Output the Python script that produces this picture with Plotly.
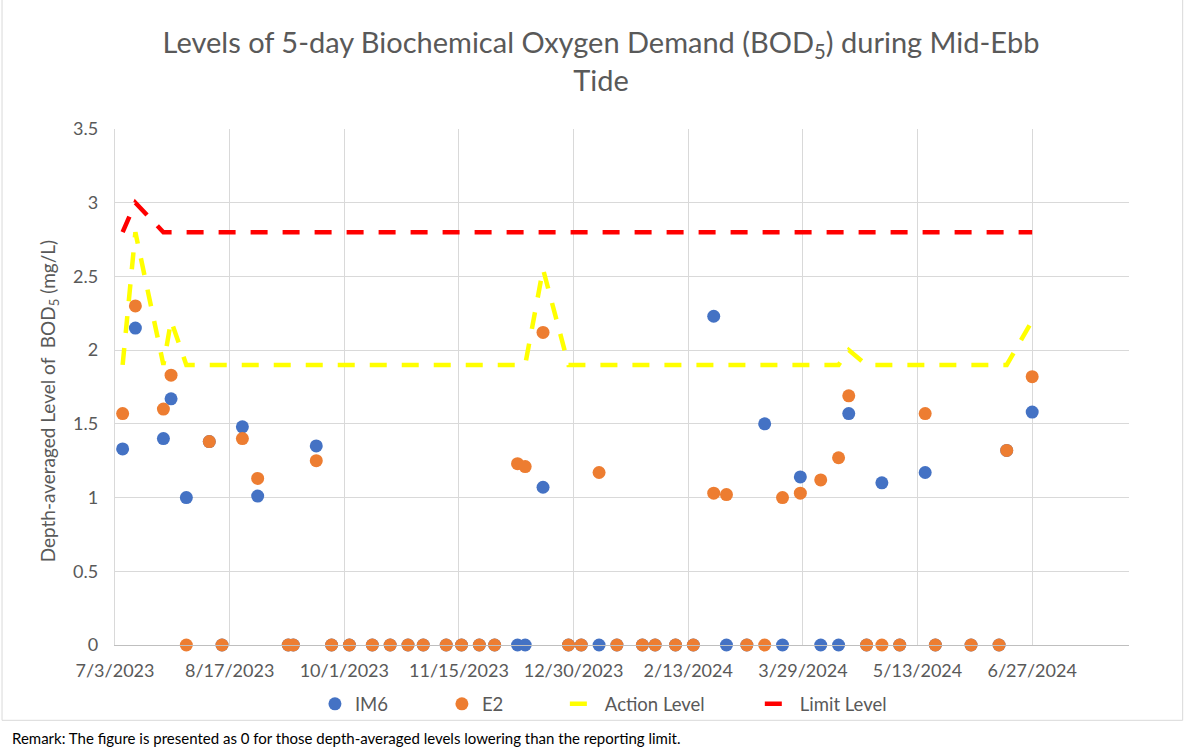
import plotly.graph_objects as go

# ---- data ----
dates = [
    "2023-07-06", "2023-07-11", "2023-07-22", "2023-07-25", "2023-07-31",
    "2023-08-09", "2023-08-14", "2023-08-22", "2023-08-28", "2023-09-09",
    "2023-09-11", "2023-09-20", "2023-09-26", "2023-10-03", "2023-10-12",
    "2023-10-19", "2023-10-26", "2023-11-01", "2023-11-10", "2023-11-16",
    "2023-11-23", "2023-11-29", "2023-12-08", "2023-12-11", "2023-12-18",
    "2023-12-28", "2024-01-02", "2024-01-09", "2024-01-16", "2024-01-26",
    "2024-01-31", "2024-02-08", "2024-02-15", "2024-02-23", "2024-02-28",
    "2024-03-07", "2024-03-14", "2024-03-21", "2024-03-28", "2024-04-05",
    "2024-04-12", "2024-04-16", "2024-04-23", "2024-04-29", "2024-05-06",
    "2024-05-16", "2024-05-20", "2024-06-03", "2024-06-14", "2024-06-17",
    "2024-06-27",
]
im6 = [
    1.33, 2.15, 1.40, 1.67, 1.00, 1.38, 0, 1.48, 1.01, 0,
    0, 1.35, 0, 0, 0, 0, 0, 0, 0, 0,
    0, 0, 0, 0, 1.07, 0, 0, 0, 0, 0,
    0, 0, 0, 2.23, 0, 0, 1.50, 0, 1.14, 0,
    0, 1.57, 0, 1.10, 0, 1.17, 0, 0, 0, 1.32,
    1.58,
]
e2 = [
    1.57, 2.30, 1.60, 1.83, 0, 1.38, 0, 1.40, 1.13, 0,
    0, 1.25, 0, 0, 0, 0, 0, 0, 0, 0,
    0, 0, 1.23, 1.21, 2.12, 0, 0, 1.17, 0, 0,
    0, 0, 0, 1.03, 1.02, 0, 0, 1.00, 1.03, 1.12,
    1.27, 1.69, 0, 0, 0, 1.57, 0, 0, 0, 1.32,
    1.82,
]
action_level = [
    1.9, 2.8, 1.9, 2.2, 1.9, 1.9, 1.9, 1.9, 1.9, 1.9,
    1.9, 1.9, 1.9, 1.9, 1.9, 1.9, 1.9, 1.9, 1.9, 1.9,
    1.9, 1.9, 1.9, 1.9, 2.55, 1.9, 1.9, 1.9, 1.9, 1.9,
    1.9, 1.9, 1.9, 1.9, 1.9, 1.9, 1.9, 1.9, 1.9, 1.9,
    1.9, 2.0, 1.9, 1.9, 1.9, 1.9, 1.9, 1.9, 1.9, 1.9,
    2.2,
]
limit_level = [2.8, 3.0] + [2.8] * 49

x_tickvals = ["2023-07-03", "2023-08-17", "2023-10-01", "2023-11-15", "2023-12-30",
              "2024-02-13", "2024-03-29", "2024-05-13", "2024-06-27"]
x_ticktext = ["7/3/2023", "8/17/2023", "10/1/2023", "11/15/2023", "12/30/2023",
              "2/13/2024", "3/29/2024", "5/13/2024", "6/27/2024"]
y_tickvals = [0, 0.5, 1, 1.5, 2, 2.5, 3, 3.5]
y_ticktext = ["0", "0.5", "1", "1.5", "2", "2.5", "3", "3.5"]

FONT = "Lato"
GREY = "#595959"

# plot-area geometry (pixels)
W, H = 1192, 749
L, R, T, B = 115, 62.7, 128.7, 104.3
PW = W - L - R
PH = H - T - B


def px_x(p):
    return (p - L) / PW


def px_y(p):
    return (H - B - p) / PH


fig = go.Figure()
fig.add_trace(go.Scatter(x=dates, y=im6, mode="markers", name="IM6",
                         marker=dict(color="#4472C4", size=13),
                         cliponaxis=False, legend="legend"))
fig.add_trace(go.Scatter(x=dates, y=e2, mode="markers", name="E2",
                         marker=dict(color="#ED7D31", size=13),
                         cliponaxis=False, legend="legend2"))
fig.add_trace(go.Scatter(x=dates, y=action_level, mode="lines", name="Action Level",
                         line=dict(color="#FFFF00", width=4.5, dash="17px,15px"),
                         cliponaxis=False, legend="legend3"))
fig.add_trace(go.Scatter(x=dates, y=limit_level, mode="lines", name="Limit Level",
                         line=dict(color="#FF0000", width=4.5, dash="17px,15px"),
                         cliponaxis=False, legend="legend4"))

leg_y = px_y(704)
leg_common = dict(orientation="h", yanchor="middle", y=leg_y, xanchor="left",
                  bgcolor="rgba(0,0,0,0)", font=dict(family=FONT, size=18.5, color=GREY))

fig.update_layout(
    width=W, height=H,
    margin=dict(l=L, r=R, t=T, b=B),
    paper_bgcolor="white", plot_bgcolor="white",
    font=dict(family=FONT, color=GREY),
    title=dict(
        text="Levels of 5-day Biochemical Oxygen Demand (BOD<sub>5</sub>) during Mid-Ebb<br>Tide",
        font=dict(family=FONT, size=29, color=GREY),
        x=601 / W, xref="container", xanchor="center",
        y=1 - 53 / H, yref="container", yanchor="top",
    ),
    xaxis=dict(
        type="date", range=["2023-07-03", "2024-08-04"],
        tickvals=x_tickvals, ticktext=x_ticktext,
        tickfont=dict(family=FONT, size=18, color=GREY),
        showgrid=True, gridcolor="#D9D9D9", gridwidth=1.3,
        showline=True, linecolor="#BFBFBF", linewidth=1.3,
        zeroline=False, ticks="", ticklabelstandoff=9,
    ),
    yaxis=dict(
        range=[0, 3.5], tickvals=y_tickvals, ticktext=y_ticktext,
        tickfont=dict(family=FONT, size=18, color=GREY),
        showgrid=True, gridcolor="#D9D9D9", gridwidth=1.3,
        showline=True, linecolor="#D9D9D9", linewidth=1.3,
        zeroline=False, ticks="", ticklabelstandoff=12,
    ),
    legend=dict(leg_common, x=px_x(315)),
    legend2=dict(leg_common, x=px_x(442)),
    legend3=dict(leg_common, x=px_x(565)),
    legend4=dict(leg_common, x=px_x(760)),
    showlegend=True,
)

# y-axis title placed as a rotated annotation
fig.add_annotation(
    text="Depth-averaged Level of &nbsp;BOD<sub>5</sub> (mg/L)",
    xref="paper", yref="paper", x=px_x(49), y=px_y(401),
    xanchor="center", yanchor="middle", textangle=-90, showarrow=False,
    font=dict(family=FONT, size=19, color=GREY),
)

# chart-area border
fig.add_shape(type="rect", xref="paper", yref="paper",
              x0=px_x(2), x1=px_x(1183), y0=px_y(720), y1=px_y(-2),
              line=dict(color="#D9D9D9", width=1), fillcolor="rgba(0,0,0,0)", layer="below")

fig.add_annotation(
    text="Remark: The figure is presented as 0 for those depth-averaged levels lowering than the reporting limit.",
    xref="paper", yref="paper", x=px_x(10), y=px_y(738), xanchor="left", yanchor="middle",
    showarrow=False, font=dict(family=FONT, size=15, color="#000000"),
)

fig.write_html(
    "out.html",
    config={"displayModeBar": False},
    post_script="document.body.style.margin='0px';document.body.style.overflow='hidden';",
)
